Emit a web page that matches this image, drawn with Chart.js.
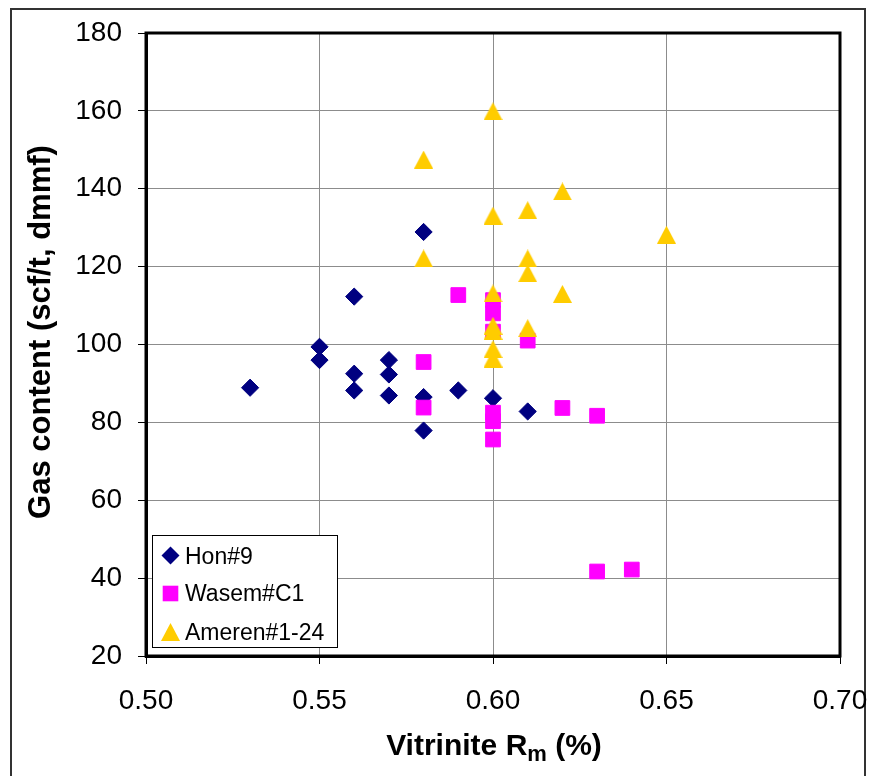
<!DOCTYPE html>
<html>
<head>
<meta charset="utf-8">
<script src="https://cdn.jsdelivr.net/npm/chart.js@4.4.1/dist/chart.umd.min.js"></script>
<style>
  html, body { margin: 0; padding: 0; background: #fff; }
  #wrap { position: absolute; left: 0; top: 0; width: 874px; height: 776px; }
</style>
</head>
<body>
<div id="wrap"><canvas id="c" width="874" height="776"></canvas></div>
<script>
// ---- data ----
const seriesNames = ['Hon#9', 'Wasem#C1', 'Ameren#1-24'];

const honX = [0.53, 0.55, 0.55, 0.56, 0.56, 0.56, 0.57, 0.57, 0.57, 0.58, 0.58, 0.58, 0.59, 0.60, 0.61];
const honY = [88.9, 99.4, 96.0, 112.3, 92.5, 88.2, 96.0, 92.3, 86.9, 128.9, 86.5, 77.9, 88.2, 86.2, 82.8];

const wasemX = [0.58, 0.58, 0.59, 0.60, 0.60, 0.60, 0.60, 0.60, 0.60, 0.61, 0.62, 0.63, 0.63, 0.64];
const wasemY = [95.5, 83.8, 112.7, 111.4, 108.0, 103.3, 82.5, 80.3, 75.6, 101.0, 83.7, 81.7, 41.7, 42.2];

const amerenX = [0.58, 0.58, 0.60, 0.60, 0.60, 0.60, 0.60, 0.60, 0.60, 0.61, 0.61, 0.61, 0.61, 0.62, 0.62, 0.65];
const amerenY = [147.5, 122.1, 159.9, 133.1, 113.1, 104.8, 103.5, 98.8, 96.4, 134.5, 122.1, 118.3, 104.2, 139.3, 113.0, 128.2];

const xTicks = [0.50, 0.55, 0.60, 0.65, 0.70];
const yTicks = [20, 40, 60, 80, 100, 120, 140, 160, 180];

const xTitleMain = 'Vitrinite R';
const xTitleSub = 'm';
const xTitleEnd = ' (%)';
const yTitle = 'Gas content (scf/t, dmmf)';

// ---- styles ----
const FONT = '"Liberation Sans", Arial, sans-serif';
const colHon = '#000080';
const colWasem = '#FF00FF';
const colAmeren = '#FFCC00';

function pts(xs, ys) { return xs.map((x, i) => ({ x: x, y: ys[i] })); }

// triangle marker centred on its bounding box (like the reference)
function makeTriangle(w, h, color) {
  const c = document.createElement('canvas');
  c.width = w; c.height = h;
  const g = c.getContext('2d');
  g.fillStyle = color;
  g.beginPath();
  g.moveTo(w / 2, 0);
  g.lineTo(w, h);
  g.lineTo(0, h);
  g.closePath();
  g.fill();
  return c;
}
const triImg = makeTriangle(19, 18, colAmeren);

const framePlugin = {
  id: 'framePlugin',
  beforeDraw(chart) {
    const ctx = chart.ctx;
    ctx.save();
    ctx.fillStyle = '#fff';
    ctx.fillRect(0, 0, chart.width, chart.height);
    ctx.strokeStyle = '#333';
    ctx.lineWidth = 2;
    ctx.strokeRect(11, 9, 854, 800);
    ctx.restore();
  },
  afterDraw(chart) {
    const ctx = chart.ctx;
    const a = chart.chartArea;
    ctx.save();
    // plot area border
    ctx.strokeStyle = '#000';
    ctx.lineWidth = 3;
    ctx.strokeRect(a.left, a.top, a.right - a.left, a.bottom - a.top);

    // y axis title
    ctx.fillStyle = '#000';
    ctx.font = 'bold 31px ' + FONT;
    ctx.textAlign = 'center';
    ctx.textBaseline = 'middle';
    ctx.translate(41, 332);
    ctx.rotate(-Math.PI / 2);
    ctx.fillText(yTitle, 0, 0);
    ctx.restore();

    // x axis title with subscript
    ctx.save();
    ctx.fillStyle = '#000';
    ctx.textBaseline = 'alphabetic';
    ctx.textAlign = 'left';
    const fMain = 'bold 30px ' + FONT;
    const fSub = 'bold 22px ' + FONT;
    ctx.font = fMain;
    const w1 = ctx.measureText(xTitleMain).width;
    const w3 = ctx.measureText(xTitleEnd).width;
    ctx.font = fSub;
    const w2 = ctx.measureText(xTitleSub).width;
    const total = w1 + w2 + w3;
    let x0 = 494 - total / 2;
    const base = 755;
    ctx.font = fMain;
    ctx.fillText(xTitleMain, x0, base);
    ctx.font = fSub;
    ctx.fillText(xTitleSub, x0 + w1, base + 6);
    ctx.font = fMain;
    ctx.fillText(xTitleEnd, x0 + w1 + w2, base);
    ctx.restore();

    // legend box
    ctx.save();
    const L = 152.5, T = 535.5, W = 185, H = 112;
    ctx.fillStyle = '#fff';
    ctx.fillRect(L, T, W, H);
    ctx.strokeStyle = '#000';
    ctx.lineWidth = 1;
    ctx.strokeRect(L, T, W, H);
    const mx = 170.5;
    const rows = [555.5, 593.5, 632];
    const bases = [563.5, 601, 640];
    // diamond
    ctx.fillStyle = colHon;
    ctx.beginPath();
    ctx.moveTo(mx, rows[0] - 9);
    ctx.lineTo(mx + 9, rows[0]);
    ctx.lineTo(mx, rows[0] + 9);
    ctx.lineTo(mx - 9, rows[0]);
    ctx.closePath();
    ctx.fill();
    // square
    ctx.fillStyle = colWasem;
    ctx.fillRect(mx - 7.8, rows[1] - 7.8, 15.6, 15.6);
    // triangle
    ctx.drawImage(triImg, mx - triImg.width / 2, rows[2] - triImg.height / 2);
    ctx.fillStyle = '#000';
    ctx.font = '23px ' + FONT;
    ctx.textAlign = 'left';
    ctx.textBaseline = 'alphabetic';
    seriesNames.forEach((n, i) => ctx.fillText(n, 185, bases[i]));
    ctx.restore();
  }
};

const chart = new Chart(document.getElementById('c'), {
  type: 'scatter',
  data: {
    datasets: [
      {
        label: seriesNames[0], data: pts(honX, honY), order: 3,
        pointStyle: 'rectRot', pointRadius: 8.6, pointHoverRadius: 8.6,
        backgroundColor: colHon, borderColor: colHon, borderWidth: 1
      },
      {
        label: seriesNames[1], data: pts(wasemX, wasemY), order: 2,
        pointStyle: 'rect', pointRadius: 10.4, pointHoverRadius: 10.4,
        backgroundColor: colWasem, borderColor: colWasem, borderWidth: 1
      },
      {
        label: seriesNames[2], data: pts(amerenX, amerenY), order: 1,
        pointStyle: triImg, pointRadius: 9, pointHoverRadius: 9,
        backgroundColor: colAmeren, borderColor: colAmeren, borderWidth: 0
      }
    ]
  },
  options: {
    responsive: false,
    animation: false,
    devicePixelRatio: 1,
    events: [],
    layout: { padding: { left: 0, top: 33, right: 34, bottom: 0 } },
    plugins: {
      legend: { display: false },
      tooltip: { enabled: false },
      title: { display: false }
    },
    scales: {
      x: {
        type: 'linear',
        min: 0.50, max: 0.70,
        afterFit(s) { s.height = 120; s.paddingLeft = 0; s.paddingRight = 0; },
        afterBuildTicks(s) { s.ticks = xTicks.map(v => ({ value: v })); },
        ticks: {
          font: { family: FONT, size: 28 },
          color: '#000',
          padding: 20,
          maxRotation: 0,
          callback: v => Number(v).toFixed(2)
        },
        grid: { color: '#8c8c8c', lineWidth: 1, tickColor: '#000', tickLength: 8, drawTicks: true },
        border: { display: true, color: '#000', width: 3 }
      },
      y: {
        type: 'linear',
        min: 20, max: 180,
        afterFit(s) { s.width = 146; s.paddingTop = 0; s.paddingBottom = 0; },
        afterBuildTicks(s) { s.ticks = yTicks.map(v => ({ value: v })); },
        ticks: {
          font: { family: FONT, size: 28 },
          color: '#000',
          padding: 16,
          callback: v => String(v)
        },
        grid: { color: '#8c8c8c', lineWidth: 1, tickColor: '#000', tickLength: 8, drawTicks: true },
        border: { display: true, color: '#000', width: 3 }
      }
    }
  },
  plugins: [framePlugin]
});
</script>
</body>
</html>
